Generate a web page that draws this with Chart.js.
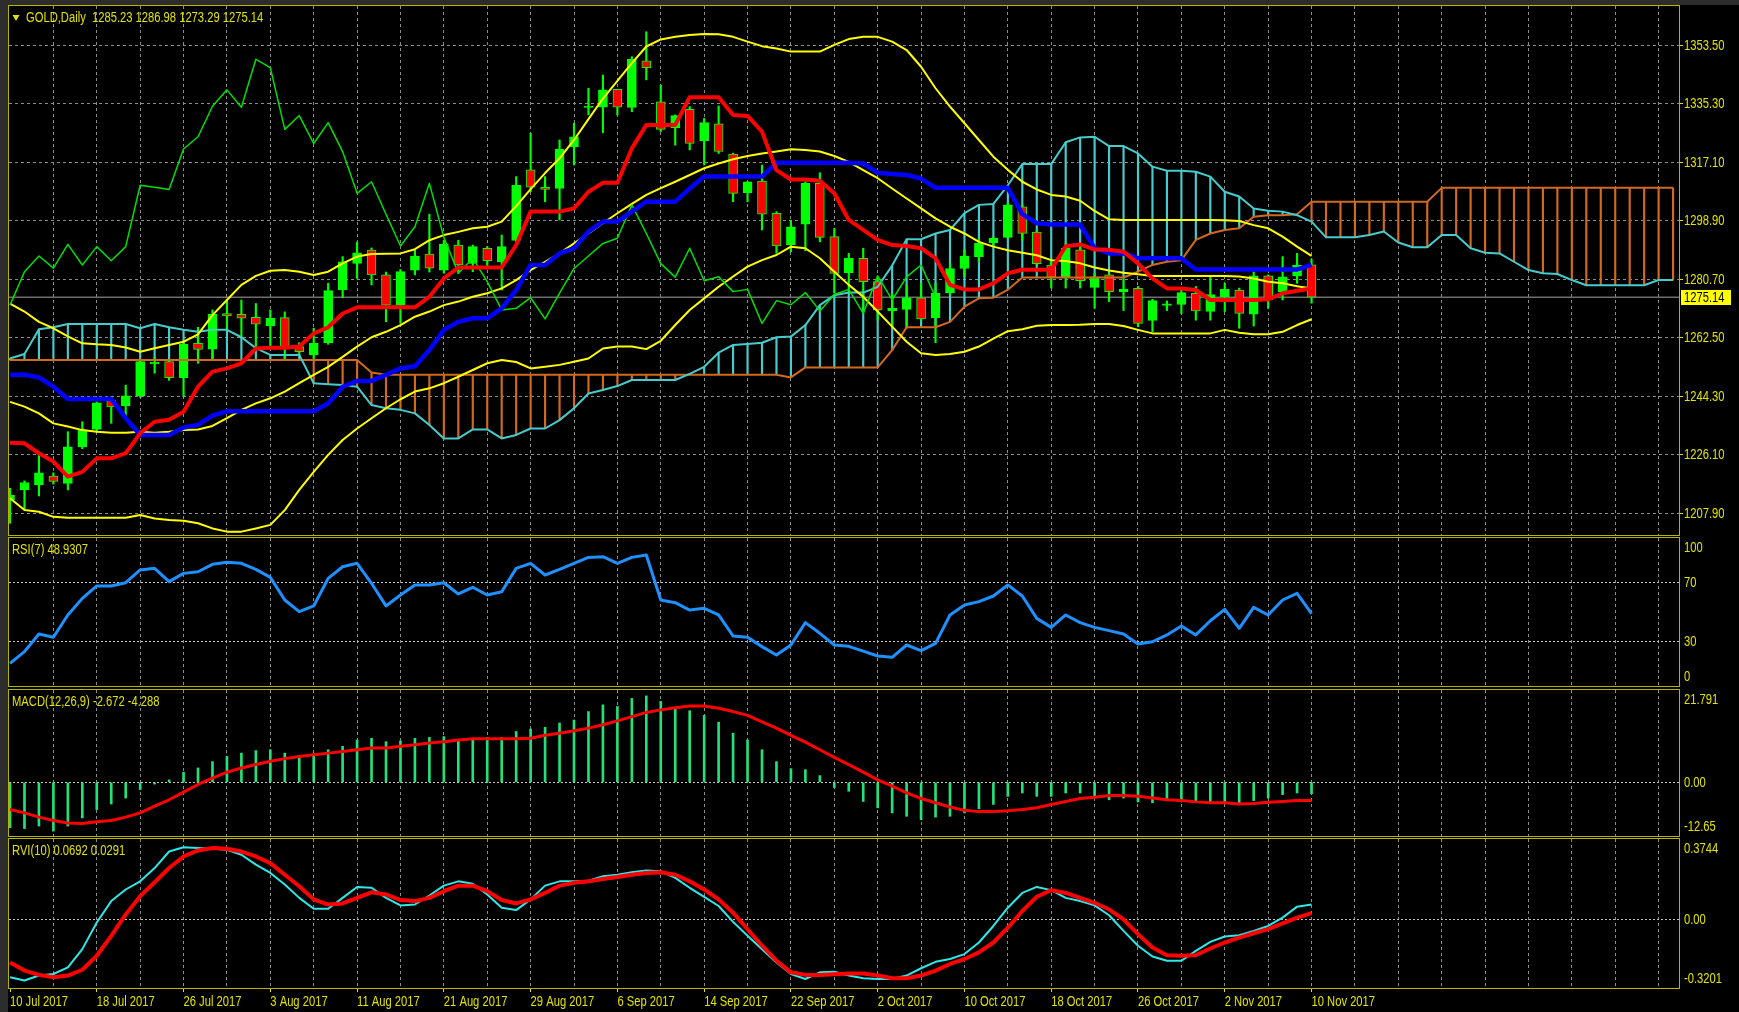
<!DOCTYPE html>
<html>
<head>
<meta charset="utf-8">
<title>GOLD,Daily</title>
<script src="https://cdn.jsdelivr.net/npm/chart.js@4.4.1/dist/chart.umd.min.js"></script>
<style>
    html, body { margin: 0; padding: 0; background: #2d2d2d; }
    #wrap { position: relative; width: 1739px; height: 1012px; overflow: hidden; background: #2d2d2d; }
    #bg { position: absolute; left: 8px; top: 5px; right: 0; bottom: 0; background: #000; }
    canvas { position: absolute; left: 0; }
</style>
</head>
<body>
<div id="wrap">
    <div id="bg"></div>
    <canvas id="mainChart" width="1739" height="536" style="top:0px"></canvas>
    <canvas id="rsiChart" width="1739" height="152" style="top:536px"></canvas>
    <canvas id="macdChart" width="1739" height="149" style="top:688px"></canvas>
    <canvas id="rviChart" width="1739" height="175" style="top:837px"></canvas>
</div>
<script>
/* ============================================================
   GOLD DAILY - MT4 style terminal chart
   Price + Ichimoku + Bollinger, then RSI, MACD and RVI windows.
   ============================================================ */

// ---- DATA ----
const dateLabels = ['10 Jul 2017', '18 Jul 2017', '26 Jul 2017', '3 Aug 2017', '11 Aug 2017',
    '21 Aug 2017', '29 Aug 2017', '6 Sep 2017', '14 Sep 2017', '22 Sep 2017', '2 Oct 2017',
    '10 Oct 2017', '18 Oct 2017', '26 Oct 2017', '2 Nov 2017', '10 Nov 2017'];

const barOpen = [
    1212.0, 1215.2, 1216.7, 1219.5, 1217.2, 1228.6, 1234.0, 1243.0, 1241.4, 1244.5,
    1254.4, 1255.1, 1250.1, 1260.8, 1259.0, 1270.1, 1269.8, 1268.9, 1266.2, 1268.8,
    1259.8, 1257.2, 1261.0, 1277.4, 1285.7, 1289.8, 1282.1, 1272.7, 1283.6, 1288.6,
    1283.6, 1291.4, 1285.7, 1290.4, 1286.2, 1292.8, 1314.8, 1309.4, 1309.0, 1322.0,
    1334.2, 1334.3, 1339.9, 1334.2, 1348.7, 1336.0, 1327.9, 1333.6, 1323.9, 1329.1,
    1319.7, 1307.7, 1311.3, 1301.3, 1291.4, 1297.9, 1310.6, 1294.0, 1282.8, 1287.3,
    1280.0, 1271.0, 1271.4, 1275.0, 1268.8, 1276.6, 1284.1, 1287.8, 1292.1, 1293.8,
    1303.3, 1295.4, 1285.2, 1281.3, 1289.9, 1278.2, 1282.1, 1276.9, 1277.9, 1267.9,
    1272.6, 1272.9, 1276.4, 1270.7, 1275.3, 1277.4, 1269.9, 1281.8, 1276.9, 1281.8,
    1285.23];
const barHigh = [
    1215.7, 1218.0, 1226.0, 1220.5, 1233.3, 1236.4, 1242.6, 1244.2, 1247.8, 1255.5,
    1256.5, 1255.5, 1260.8, 1265.8, 1271.2, 1274.3, 1274.3, 1273.2, 1271.2, 1270.6,
    1261.0, 1265.5, 1279.5, 1287.8, 1292.3, 1290.5, 1283.0, 1283.8, 1289.9, 1301.0,
    1292.9, 1292.9, 1291.4, 1290.9, 1294.5, 1312.7, 1326.2, 1312.7, 1324.1, 1329.3,
    1340.2, 1344.3, 1339.9, 1350.0, 1357.8, 1341.2, 1331.9, 1334.5, 1330.8, 1334.7,
    1320.0, 1311.1, 1316.3, 1301.8, 1299.0, 1311.1, 1313.9, 1296.6, 1288.8, 1290.4,
    1281.5, 1276.0, 1279.0, 1279.5, 1279.5, 1285.6, 1289.9, 1293.5, 1294.0, 1304.4,
    1303.9, 1296.0, 1287.0, 1292.0, 1291.5, 1282.5, 1282.6, 1281.0, 1278.5, 1274.5,
    1274.0, 1277.4, 1278.5, 1281.5, 1279.5, 1278.0, 1283.1, 1282.1, 1287.8, 1288.8,
    1286.98];
const barLow = [
    1204.8, 1209.0, 1213.3, 1217.0, 1215.2, 1228.0, 1233.3, 1235.9, 1237.0, 1244.0,
    1251.5, 1249.3, 1244.2, 1254.6, 1255.6, 1264.9, 1262.4, 1258.7, 1259.8, 1255.6,
    1257.0, 1255.6, 1260.5, 1275.0, 1281.0, 1279.0, 1267.5, 1267.0, 1282.1, 1283.0,
    1282.6, 1282.6, 1283.1, 1284.7, 1277.4, 1292.0, 1308.0, 1304.9, 1299.2, 1316.3,
    1331.9, 1326.4, 1331.9, 1332.9, 1342.8, 1326.7, 1322.5, 1321.0, 1316.3, 1319.9,
    1304.9, 1304.9, 1296.1, 1288.8, 1289.3, 1289.6, 1292.4, 1276.4, 1276.4, 1271.2,
    1268.0, 1266.0, 1265.5, 1268.0, 1261.0, 1275.9, 1281.6, 1286.2, 1291.0, 1293.5,
    1292.9, 1285.0, 1278.0, 1278.0, 1278.0, 1271.7, 1273.8, 1271.0, 1266.0, 1264.4,
    1271.0, 1270.0, 1268.0, 1268.0, 1270.7, 1265.5, 1266.2, 1271.7, 1274.3, 1279.5,
    1273.29];
const barClose = [
    1213.6, 1217.5, 1220.5, 1217.8, 1228.6, 1233.8, 1242.3, 1241.0, 1244.5, 1255.1,
    1254.8, 1250.1, 1260.5, 1258.9, 1269.8, 1269.3, 1268.6, 1266.8, 1268.6, 1259.2,
    1258.2, 1260.8, 1277.2, 1286.2, 1289.0, 1282.1, 1272.7, 1283.1, 1288.0, 1284.2,
    1291.6, 1285.2, 1290.9, 1286.5, 1290.9, 1310.0, 1309.4, 1308.7, 1321.3, 1325.1,
    1334.6, 1339.7, 1334.3, 1349.2, 1346.6, 1327.4, 1331.7, 1323.0, 1329.5, 1320.5,
    1307.5, 1311.1, 1301.0, 1291.1, 1297.1, 1310.6, 1293.8, 1282.6, 1287.3, 1280.0,
    1271.2, 1271.7, 1275.0, 1268.4, 1276.4, 1284.1, 1288.0, 1291.9, 1293.5, 1303.9,
    1295.0, 1285.6, 1281.4, 1290.4, 1280.3, 1281.5, 1276.9, 1277.6, 1267.0, 1274.1,
    1272.8, 1276.6, 1270.9, 1276.0, 1277.6, 1270.1, 1281.8, 1274.3, 1281.5, 1285.2,
    1275.14];

// Ichimoku (9,26,52)
const tenkanSen = [
    1229.9, 1229.7, 1226.6, 1224.0, 1219.3, 1220.8, 1225.0, 1225.0, 1226.6, 1232.8,
    1236.4, 1237.0, 1239.5, 1247.3, 1252.0, 1253.0, 1254.6, 1259.2, 1259.4, 1259.4,
    1259.8, 1263.9, 1265.8, 1270.1, 1272.0, 1272.0, 1272.0, 1272.0, 1272.0, 1275.3,
    1281.0, 1284.4, 1284.4, 1284.4, 1284.4, 1291.4, 1301.8, 1301.8, 1301.8, 1302.8,
    1308.0, 1310.8, 1310.8, 1321.5, 1328.8, 1328.8, 1328.8, 1337.4, 1337.4, 1337.4,
    1331.9, 1331.6, 1326.7, 1314.7, 1311.8, 1311.8, 1311.4, 1307.5, 1299.2, 1296.1,
    1293.0, 1291.4, 1291.1, 1290.4, 1287.3, 1279.0, 1277.6, 1277.6, 1279.5, 1282.6,
    1283.7, 1283.7, 1283.7, 1291.0, 1291.6, 1290.0, 1289.9, 1289.3, 1285.7, 1281.0,
    1277.9, 1277.9, 1277.4, 1274.3, 1274.3, 1274.3, 1274.3, 1274.5, 1276.4, 1277.2,
    1277.9];
const kijunSen = [
    1251.0, 1251.0, 1250.2, 1247.3, 1243.5, 1243.5, 1243.5, 1243.5, 1237.5, 1232.3,
    1232.3, 1232.3, 1234.6, 1235.4, 1238.3, 1239.7, 1239.7, 1239.7, 1239.7, 1239.7,
    1239.7, 1239.7, 1242.1, 1247.3, 1249.1, 1249.1, 1251.0, 1253.0, 1253.7, 1258.7,
    1265.0, 1267.5, 1268.6, 1268.6, 1271.7, 1277.4, 1285.2, 1285.2, 1288.8, 1290.4,
    1295.6, 1298.7, 1298.7, 1301.8, 1304.9, 1304.9, 1304.9, 1309.0, 1312.7, 1312.7,
    1312.7, 1312.7, 1312.7, 1317.0, 1317.0, 1317.0, 1317.0, 1317.0, 1317.0, 1316.8,
    1313.9, 1313.5, 1313.2, 1312.1, 1309.2, 1309.2, 1309.2, 1309.2, 1309.2, 1309.2,
    1301.0, 1298.2, 1297.8, 1297.8, 1297.8, 1290.4, 1288.8, 1288.8, 1287.3, 1287.3,
    1287.3, 1287.3, 1283.8, 1283.8, 1283.8, 1283.8, 1283.8, 1283.8, 1283.8, 1283.8,
    1285.2];
// lagging span, already shifted 26 bars back
const chikouSpan = [
    1272.7, 1283.1, 1288.0, 1284.2, 1291.6, 1285.2, 1290.9, 1286.5, 1290.9, 1310.0,
    1309.4, 1308.7, 1321.3, 1325.1, 1334.6, 1339.7, 1334.3, 1349.2, 1346.6, 1327.4,
    1331.7, 1323.0, 1329.5, 1320.5, 1307.5, 1311.1, 1301.0, 1291.1, 1297.1, 1310.6,
    1293.8, 1282.6, 1287.3, 1280.0, 1271.2, 1271.7, 1275.0, 1268.4, 1276.4, 1284.1,
    1288.0, 1291.9, 1293.5, 1303.9, 1295.0, 1285.6, 1281.4, 1290.4, 1280.3, 1281.5,
    1276.9, 1277.6, 1267.0, 1274.1, 1272.8, 1276.6, 1270.9, 1276.0, 1277.6, 1270.1,
    1281.8, 1274.3, 1281.5, 1285.2, 1275.1];
// leading spans, already shifted 26 bars ahead (116 bars)
const senkouA = [
    1256.1, 1257.5, 1265.2, 1265.8, 1266.8, 1266.8, 1266.8, 1266.8, 1266.8, 1265.5,
    1266.8, 1265.8, 1265.0, 1264.4, 1265.0, 1265.0, 1262.7, 1259.3, 1257.2, 1257.2,
    1257.2, 1248.4, 1248.1, 1247.8, 1247.3, 1241.6, 1240.6, 1240.1, 1239.0, 1235.4,
    1231.2, 1231.2, 1234.0, 1234.0, 1231.2, 1232.3, 1234.3, 1234.3, 1236.9, 1240.6,
    1245.2, 1246.3, 1247.5, 1249.4, 1249.4, 1249.4, 1249.4, 1251.3, 1253.5, 1257.9,
    1260.3, 1260.6, 1261.0, 1262.7, 1262.9, 1266.5, 1272.7, 1275.8, 1276.6, 1276.6,
    1278.4, 1285.0, 1293.2, 1293.2, 1295.0, 1296.1, 1301.3, 1303.9, 1304.2, 1310.0,
    1316.6, 1316.6, 1316.6, 1323.4, 1324.9, 1325.1, 1322.2, 1322.2, 1319.9, 1315.8,
    1314.5, 1314.5, 1314.2, 1312.7, 1308.0, 1306.5, 1302.8, 1302.1, 1301.8, 1300.7,
    1298.7, 1293.8, 1293.8, 1293.8, 1294.5, 1295.6, 1292.2, 1290.7, 1290.7, 1294.5,
    1294.5, 1290.4, 1289.0, 1288.8, 1286.2, 1283.6, 1282.6, 1282.4, 1280.5, 1278.9,
    1278.9, 1278.9, 1278.9, 1278.9, 1280.5, 1280.5];
const senkouB = [
    1255.6, 1255.6, 1255.6, 1255.6, 1255.6, 1255.6, 1255.6, 1255.6, 1255.6, 1255.6,
    1255.6, 1255.6, 1255.6, 1255.6, 1255.6, 1255.6, 1255.6, 1255.6, 1255.6, 1255.6,
    1255.6, 1255.6, 1255.6, 1255.6, 1255.6, 1251.7, 1251.0, 1251.0, 1251.0, 1251.0,
    1251.0, 1251.0, 1251.0, 1251.0, 1251.0, 1251.0, 1251.0, 1251.0, 1251.0, 1251.0,
    1251.0, 1251.0, 1251.0, 1251.0, 1251.0, 1251.0, 1251.0, 1251.0, 1251.0, 1251.0,
    1251.0, 1251.0, 1251.0, 1251.0, 1250.2, 1253.3, 1253.3, 1253.3, 1253.3, 1253.3,
    1253.3, 1258.7, 1265.8, 1265.8, 1265.8, 1267.5, 1272.2, 1274.8, 1275.0, 1277.5,
    1281.3, 1281.3, 1281.3, 1281.3, 1281.3, 1281.3, 1281.3, 1281.3, 1283.1, 1285.2,
    1286.2, 1286.7, 1293.0, 1295.0, 1296.1, 1296.6, 1300.2, 1300.7, 1300.7, 1301.0,
    1304.9, 1304.9, 1304.9, 1304.9, 1304.9, 1304.9, 1304.9, 1304.9, 1304.9, 1309.2,
    1309.2, 1309.2, 1309.2, 1309.2, 1309.2, 1309.2, 1309.2, 1309.2, 1309.2, 1309.2,
    1309.2, 1309.2, 1309.2, 1309.2, 1309.2, 1309.2];

// Bollinger bands (20,2)
const bbUpper = [
    1273.2, 1270.7, 1267.5, 1265.5, 1263.0, 1260.8, 1260.5, 1260.3, 1259.5, 1258.2,
    1259.3, 1260.3, 1261.3, 1263.6, 1269.6, 1274.3, 1279.0, 1281.8, 1283.4, 1283.6,
    1283.1, 1282.1, 1283.1, 1285.7, 1287.8, 1288.6, 1288.7, 1288.8, 1290.1, 1292.9,
    1294.5, 1295.5, 1296.6, 1297.1, 1298.7, 1303.5, 1308.8, 1313.8, 1318.4, 1324.1,
    1330.6, 1337.0, 1342.5, 1348.0, 1353.2, 1355.4, 1356.2, 1356.8, 1357.1, 1357.0,
    1356.2, 1354.7, 1353.3, 1352.6, 1351.6, 1351.6, 1351.6, 1353.7, 1355.5, 1356.2,
    1356.2, 1354.7, 1352.1, 1346.9, 1340.2, 1334.5, 1329.3, 1324.1, 1318.9, 1314.8,
    1311.1, 1308.7, 1307.0, 1306.5, 1305.2, 1302.0, 1299.4, 1299.2, 1299.2, 1299.2,
    1299.2, 1299.2, 1299.2, 1299.2, 1299.1, 1298.9, 1297.6, 1296.6, 1294.0, 1290.9,
    1288.0];
const bbMiddle = [
    1242.6, 1241.1, 1239.0, 1235.9, 1234.9, 1233.8, 1233.3, 1233.0, 1233.0, 1233.3,
    1233.0, 1233.3, 1233.8, 1234.0, 1235.1, 1237.5, 1240.1, 1242.1, 1243.7, 1245.8,
    1248.4, 1251.0, 1253.5, 1256.6, 1259.8, 1262.7, 1264.4, 1266.5, 1269.1, 1270.7,
    1272.7, 1273.8, 1275.3, 1276.4, 1277.9, 1280.5, 1283.6, 1286.2, 1288.8, 1291.9,
    1295.0, 1298.2, 1301.3, 1304.2, 1307.0, 1309.1, 1311.1, 1313.2, 1315.3, 1316.8,
    1318.1, 1319.1, 1319.9, 1320.5, 1321.2, 1321.0, 1320.5, 1319.1, 1317.3, 1314.7,
    1312.2, 1309.0, 1305.9, 1302.8, 1299.7, 1297.1, 1295.0, 1292.4, 1290.9, 1289.8,
    1289.0, 1288.2, 1286.7, 1286.4, 1285.7, 1284.4, 1283.5, 1282.8, 1282.3, 1281.8,
    1281.8, 1281.8, 1281.8, 1281.8, 1281.8, 1281.6, 1281.0, 1280.0, 1279.5, 1278.6,
    1277.9];
const bbLower = [
    1212.6, 1208.9, 1208.4, 1206.8, 1206.5, 1206.5, 1206.5, 1206.5, 1206.5, 1207.4,
    1206.3, 1205.8, 1205.6, 1204.8, 1203.2, 1202.2, 1202.2, 1203.2, 1204.3, 1208.9,
    1215.2, 1220.8, 1226.1, 1230.7, 1234.3, 1237.5, 1240.6, 1243.4, 1245.8, 1246.8,
    1248.4, 1250.4, 1252.5, 1254.6, 1255.6, 1255.0, 1253.0, 1253.5, 1254.1, 1255.1,
    1256.1, 1259.2, 1259.8, 1259.8, 1259.0, 1261.6, 1266.5, 1271.2, 1274.8, 1278.4,
    1281.6, 1284.7, 1286.7, 1288.3, 1290.9, 1290.4, 1287.3, 1283.1, 1279.0, 1275.3,
    1270.7, 1266.0, 1261.3, 1257.7, 1257.2, 1257.5, 1258.2, 1259.8, 1262.3, 1264.6,
    1265.2, 1266.3, 1266.5, 1266.5, 1266.6, 1266.8, 1266.8, 1266.2, 1265.0, 1263.9,
    1263.9, 1263.9, 1263.9, 1263.9, 1265.0, 1264.1, 1263.6, 1263.6, 1264.4, 1266.5,
    1268.3];

const rsiValues = [
    15.3, 23.2, 35.1, 32.9, 48.0, 59.2, 67.6, 67.6, 69.8, 78.4,
    79.5, 70.5, 76.1, 77.2, 82.2, 83.6, 82.9, 78.8, 73.4, 58.1,
    50.2, 54.1, 72.7, 80.6, 82.9, 69.4, 54.1, 61.5, 68.3, 68.3,
    69.8, 62.2, 66.7, 61.5, 63.7, 79.5, 82.9, 75.0, 78.8, 82.9,
    86.9, 87.4, 82.9, 86.9, 88.5, 58.1, 56.3, 51.3, 52.5, 48.0,
    33.8, 32.9, 26.6, 20.9, 27.7, 42.8, 35.6, 27.7, 26.8, 23.6,
    20.3, 19.4, 27.7, 23.9, 28.8, 48.0, 54.7, 57.0, 60.8, 68.3,
    60.8, 45.7, 39.6, 48.0, 42.8, 39.6, 37.4, 35.1, 28.4, 29.9,
    34.5, 40.5, 34.5, 44.1, 51.8, 39.0, 53.1, 48.0, 58.1, 62.6,
    48.9];

const macdHist = [
    -10.7, -10.9, -10.3, -11.5, -10.3, -8.4, -6.4, -5.1, -3.7, -1.7,
    -0.4, 0.6, 2.4, 3.4, 4.9, 6.1, 6.9, 7.5, 7.7, 6.9,
    6.1, 6.7, 7.7, 8.5, 10.0, 10.4, 9.6, 9.8, 10.4, 10.6,
    10.8, 10.0, 10.4, 10.6, 10.6, 12.0, 12.6, 13.0, 14.0, 14.7,
    16.7, 18.3, 17.9, 19.8, 20.4, 19.1, 17.6, 16.9, 15.8, 14.2,
    11.6, 10.0, 7.7, 4.9, 3.2, 3.0, 1.6, -1.2, -2.1, -4.5,
    -6.0, -7.2, -8.0, -8.8, -8.2, -8.0, -7.2, -6.2, -5.2, -3.3,
    -2.5, -3.3, -3.3, -2.5, -2.5, -3.3, -4.1, -3.7, -4.6, -4.8,
    -4.3, -4.6, -4.5, -4.8, -4.6, -5.1, -4.3, -3.7, -2.9, -2.5,
    -2.67];
const macdSignal = [
    -6.4, -7.2, -8.2, -9.0, -9.6, -9.7, -9.3, -9.0, -8.2, -7.2,
    -5.6, -4.1, -2.3, -0.5, 1.0, 2.4, 3.4, 4.2, 5.0, 5.6,
    6.1, 6.5, 6.9, 7.3, 7.7, 8.1, 8.1, 8.5, 8.9, 9.3,
    9.6, 10.0, 10.3, 10.3, 10.3, 10.3, 10.4, 11.1, 11.6, 12.2,
    12.8, 13.6, 14.5, 15.5, 16.5, 17.1, 17.6, 18.0, 18.0, 17.5,
    16.7, 15.8, 14.3, 12.8, 11.1, 9.5, 7.7, 5.9, 4.2, 2.4,
    0.6, -0.9, -2.5, -3.8, -4.8, -5.8, -6.6, -6.9, -6.9, -6.7,
    -6.4, -6.0, -5.2, -4.5, -3.8, -3.5, -3.1, -3.1, -3.3, -3.7,
    -4.1, -4.3, -4.6, -4.8, -4.8, -5.1, -5.0, -4.7, -4.5, -4.3,
    -4.29];

const rviMain = [
    -0.270, -0.285, -0.262, -0.255, -0.224, -0.139, -0.015, 0.085, 0.139, 0.177,
    0.239, 0.316, 0.336, 0.332, 0.329, 0.324, 0.301, 0.255, 0.216, 0.162,
    0.100, 0.049, 0.049, 0.100, 0.151, 0.147, 0.100, 0.065, 0.069, 0.111,
    0.157, 0.177, 0.166, 0.116, 0.054, 0.043, 0.093, 0.157, 0.177, 0.177,
    0.180, 0.201, 0.208, 0.219, 0.228, 0.224, 0.193, 0.147, 0.105, 0.062,
    -0.012, -0.077, -0.139, -0.201, -0.255, -0.278, -0.247, -0.244, -0.262, -0.275,
    -0.278, -0.278, -0.262, -0.228, -0.198, -0.185, -0.162, -0.108, -0.031, 0.054,
    0.123, 0.151, 0.136, 0.100, 0.085, 0.065, 0.019, -0.054, -0.123, -0.173,
    -0.193, -0.193, -0.147, -0.105, -0.080, -0.074, -0.054, -0.031, 0.008, 0.059,
    0.069];
const rviSignal = [
    -0.201, -0.239, -0.259, -0.270, -0.262, -0.235, -0.170, -0.077, 0.023, 0.108,
    0.173, 0.239, 0.293, 0.321, 0.332, 0.329, 0.316, 0.293, 0.262, 0.208,
    0.154, 0.093, 0.069, 0.074, 0.100, 0.126, 0.116, 0.090, 0.085, 0.100,
    0.131, 0.157, 0.157, 0.131, 0.090, 0.074, 0.093, 0.123, 0.157, 0.170,
    0.177, 0.188, 0.197, 0.208, 0.216, 0.219, 0.208, 0.177, 0.139, 0.093,
    0.031, -0.046, -0.123, -0.193, -0.247, -0.259, -0.259, -0.256, -0.253, -0.253,
    -0.262, -0.275, -0.275, -0.262, -0.239, -0.208, -0.185, -0.154, -0.108, -0.039,
    0.039, 0.105, 0.136, 0.123, 0.100, 0.077, 0.046, 0.000, -0.069, -0.131,
    -0.167, -0.170, -0.167, -0.136, -0.108, -0.085, -0.065, -0.046, -0.019, 0.008,
    0.029];

// ---- AXES ----
const priceTicks = [1207.90, 1226.10, 1244.30, 1262.50, 1280.70, 1298.90, 1317.10, 1335.30, 1353.50];
const priceTickLabels = ['1207.90', '1226.10', '1244.30', '1262.50', '1280.70', '1298.90', '1317.10', '1335.30', '1353.50'];
const rsiTicks = [0, 30, 70, 100];
const rsiTickLabels = ['0', '30', '70', '100'];
const macdTicks = [-12.65, 0, 21.791];
const macdTickLabels = ['-12.65', '0.00', '21.791'];
const rviTicks = [-0.3201, 0, 0.3744];
const rviTickLabels = ['-0.3201', '0.00', '0.3744'];

const titleMain = 'GOLD,Daily  ' + [barOpen[90], barHigh[90], barLow[90], barClose[90]].map(v => v.toFixed(2)).join(' ');
const titleRsi = 'RSI(7) 48.9307';
const titleMacd = 'MACD(12,26,9) -2.672 -4.288';
const titleRvi = 'RVI(10) 0.0692 0.0291';

// ---- STYLE ----
const FONT = "'Liberation Sans', Arial, sans-serif";
const NARROW = 0.8;     // terminal font is tall and narrow
const TEXT = '#e2e200';
const FRAME = '#b4b400';
const GRID = '#8c8c8c';
const GRID_LIGHT = '#c4c4c4';
const NONE = 'rgba(0,0,0,0)';
const BULL = '#00ff00';
const BEAR = '#ff0000';
const KUMO_UP = '#46cccc';
const KUMO_DOWN = '#d2691e';
const X_MIN = -0.07;
const X_MAX = 115.41;
const BAR_STEP = 6;     // bars between date labels
const GRID_STEP = 3;    // bars between vertical grid lines

const series = (arr) => arr.map((v, i) => ({ x: i, y: v }));

Chart.defaults.font.family = FONT;
Chart.defaults.font.size = 14;

function narrowText(ctx, text, x, y, align) {
    ctx.save();
    ctx.translate(x, y);
    ctx.scale(NARROW, 1);
    ctx.textAlign = align || 'left';
    ctx.fillText(text, 0, 0);
    ctx.restore();
}

// ---- SCALES ----
function xScale(showDates) {
    return {
        type: 'linear',
        min: X_MIN,
        max: X_MAX,
        offset: false,
        afterBuildTicks: s => {
            const t = [];
            for (let b = 0; b <= X_MAX - 1; b += GRID_STEP) t.push({ value: b });
            s.ticks = t;
        },
        afterFit: s => { s.height = showDates ? 24 : 0; s.paddingLeft = 0; s.paddingRight = 0; },
        grid: {
            offset: false,
            lineWidth: 1,
            color: c => (c.tick && c.tick.value === 0) ? NONE : GRID,
            drawTicks: showDates,
            tickLength: 4,
            tickColor: c => (c.tick && c.tick.value % BAR_STEP === 0 && c.tick.value / BAR_STEP < dateLabels.length) ? TEXT : NONE
        },
        border: { display: false, dash: [3, 3] },
        ticks: { display: false }
    };
}

function yScale(min, max, ticks, isPrice) {
    return {
        type: 'linear',
        position: 'right',
        min: min,
        max: max,
        afterBuildTicks: s => { s.ticks = ticks.map(v => ({ value: v })); },
        afterFit: s => { s.width = 60; s.paddingTop = 0; s.paddingBottom = 0; },
        grid: {
            lineWidth: 1,
            color: isPrice ? GRID : (c => (c.index === 0 || c.index === ticks.length - 1) ? NONE : GRID_LIGHT),
            drawTicks: isPrice,
            tickLength: 4,
            tickColor: TEXT
        },
        border: { display: false, dash: isPrice ? [3, 3] : [2, 2] },
        ticks: { display: false }
    };
}

// ---- FRAME, TITLES, SCALE LABELS ----
function panelDecor(cfg) {
    return {
        id: 'panelDecor',
        afterDraw(chart) {
            const { ctx, chartArea: a } = chart;
            const ys = chart.scales.y;
            const xs = chart.scales.x;
            ctx.save();
            ctx.strokeStyle = FRAME;
            ctx.lineWidth = 1;
            ctx.strokeRect(a.left - 0.5, a.top - 0.5, a.right - a.left + 1, a.bottom - a.top + 1);

            ctx.font = '14px ' + FONT;
            ctx.textBaseline = 'middle';
            ctx.fillStyle = TEXT;
            let tx = a.left + 3;
            if (cfg.marker) {
                ctx.beginPath();
                ctx.moveTo(a.left + 3.5, a.top + 9);
                ctx.lineTo(a.left + 10.5, a.top + 9);
                ctx.lineTo(a.left + 7, a.top + 15);
                ctx.closePath();
                ctx.fill();
                tx = a.left + 17;
            }
            narrowText(ctx, cfg.title, tx, a.top + 12);

            // right scale; sub-window labels are kept inside the window
            cfg.axisTicks.forEach((v, i) => {
                let y = ys.getPixelForValue(v);
                if (cfg.clampLabels) y = Math.min(Math.max(y, a.top + 10), a.bottom - 9);
                narrowText(ctx, cfg.axisLabels[i], a.right + 5, y + 0.5);
            });

            // dates under the last window
            if (cfg.dates) {
                dateLabels.forEach((d, i) => {
                    narrowText(ctx, d, xs.getPixelForValue(i * BAR_STEP), a.bottom + 14);
                });
            }

            // current price box
            if (cfg.lastPrice !== undefined) {
                const y = Math.round(ys.getPixelForValue(cfg.lastPrice));
                ctx.fillStyle = '#ffff00';
                ctx.fillRect(a.right + 2, y - 7, 50, 15);
                ctx.fillStyle = '#000000';
                narrowText(ctx, cfg.lastPrice.toFixed(2), a.right + 5, y + 1);
            }
            ctx.restore();
        }
    };
}

function makeChart(id, padding, yCfg, showDates, datasets, decor) {
    return new Chart(document.getElementById(id), {
        type: 'line',
        data: { datasets: datasets },
        options: {
            responsive: false,
            animation: false,
            events: [],
            layout: { padding: padding },
            elements: { point: { radius: 0 }, line: { tension: 0 } },
            plugins: { legend: { display: false }, tooltip: { enabled: false } },
            scales: { x: xScale(showDates), y: yCfg }
        },
        plugins: [decor]
    });
}

function lineSet(data, color, width, order) {
    return {
        type: 'line', data: data, borderColor: color, borderWidth: width,
        pointRadius: 0, fill: false, order: order, borderJoinStyle: 'round'
    };
}

// ============================================================
// 1. MAIN WINDOW - candles, Ichimoku, Bollinger
// ============================================================
const lastClose = barClose[barClose.length - 1];

makeChart('mainChart', { left: 9, right: 0, top: 6, bottom: 1 },
    yScale(1201.15, 1365.8, priceTicks, true), false, [
        lineSet([{ x: X_MIN, y: lastClose }, { x: X_MAX, y: lastClose }], '#6e6e6e', 1.5, 20),
        {
            type: 'bar',
            data: senkouA.map((v, i) => ({ x: i, y: [Math.min(v, senkouB[i]), Math.max(v, senkouB[i])] })),
            backgroundColor: senkouA.map((v, i) => v >= senkouB[i] ? KUMO_UP : KUMO_DOWN),
            barThickness: 1.5, grouped: false, order: 12
        },
        {
            type: 'bar',
            data: barHigh.map((h, i) => ({ x: i, y: [barLow[i], h] })),
            backgroundColor: BULL, barThickness: 1.5, grouped: false, order: 11
        },
        {
            type: 'bar',
            data: barOpen.map((o, i) => ({ x: i, y: [o, barClose[i]] })),
            backgroundColor: barOpen.map((o, i) => barClose[i] >= o ? BULL : BEAR),
            borderColor: BULL, borderWidth: 1, borderSkipped: false,
            barThickness: 9, minBarLength: 1.5, grouped: false, order: 10
        },
        lineSet(series(senkouA), KUMO_UP, 2, 9),
        lineSet(series(senkouB), KUMO_DOWN, 2, 9),
        lineSet(series(bbUpper), '#ffff00', 2, 7),
        lineSet(series(bbMiddle), '#ffff00', 2, 7),
        lineSet(series(bbLower), '#ffff00', 2, 7),
        lineSet(series(chikouSpan), '#00e000', 1.5, 6),
        lineSet(series(kijunSen), '#0000ff', 4.5, 5),
        lineSet(series(tenkanSen), '#ff0000', 4, 4)
    ],
    panelDecor({ title: titleMain, marker: true, lastPrice: lastClose,
        axisTicks: priceTicks, axisLabels: priceTickLabels, clampLabels: false }));

// ============================================================
// 2. RSI(7)
// ============================================================
makeChart('rsiChart', { left: 9, right: 0, top: 2, bottom: 2 },
    yScale(0, 100, rsiTicks, false), false, [
        lineSet(series(rsiValues), '#1e90ff', 3, 1)
    ],
    panelDecor({ title: titleRsi, axisTicks: rsiTicks, axisLabels: rsiTickLabels, clampLabels: true }));

// ============================================================
// 3. MACD(12,26,9)
// ============================================================
makeChart('macdChart', { left: 9, right: 0, top: 2, bottom: 1 },
    yScale(-12.65, 21.791, macdTicks, false), false, [
        {
            type: 'bar', data: series(macdHist), backgroundColor: '#22e07a',
            barThickness: 2, grouped: false, order: 2
        },
        lineSet(series(macdSignal), '#ff0000', 3, 1)
    ],
    panelDecor({ title: titleMacd, axisTicks: macdTicks, axisLabels: macdTickLabels, clampLabels: true }));

// ============================================================
// 4. RVI(10)
// ============================================================
makeChart('rviChart', { left: 9, right: 0, top: 2, bottom: 0 },
    yScale(-0.3201, 0.3744, rviTicks, false), true, [
        lineSet(series(rviMain), '#30e6e6', 2, 2),
        lineSet(series(rviSignal), '#ff0000', 4, 1)
    ],
    panelDecor({ title: titleRvi, axisTicks: rviTicks, axisLabels: rviTickLabels, clampLabels: true, dates: true }));
</script>
</body>
</html>
